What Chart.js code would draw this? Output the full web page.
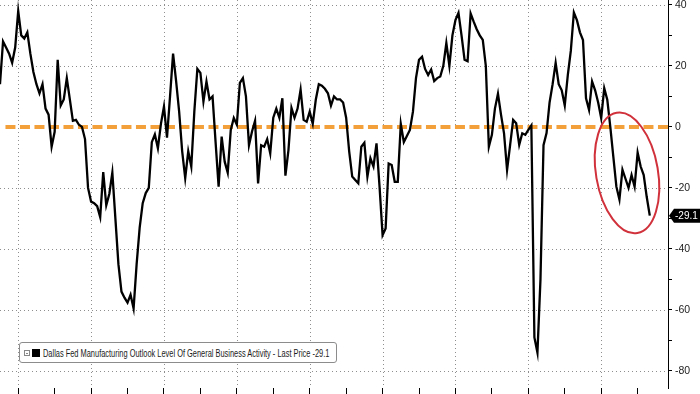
<!DOCTYPE html>
<html>
<head>
<meta charset="utf-8">
<script src="https://cdn.jsdelivr.net/npm/chart.js@4"></script>
<style>
html, body { margin: 0; padding: 0; background: #fff; }
#wrap { position: relative; width: 700px; height: 394px; }
#legend {
    position: absolute; left: 19px; top: 342px; height: 19px; width: 306px;
    border: 1px solid #8c8c8c; border-radius: 3px; background: #fff;
    font: 11px 'Liberation Sans', Arial, sans-serif; color: #1a1a1a;
    display: flex; align-items: center; padding: 0 6px 0 4px; white-space: nowrap; overflow: visible;
}
#legend .mini { width: 4px; height: 4px; border: 1px solid #888; margin-right: 2px; position: relative; flex: none; }
#legend .mini:after { content: ''; position: absolute; left: 1px; top: 2px; width: 2px; height: 1px; background: #888; }
#legend .sq { width: 8px; height: 8px; background: #000; margin-right: 3px; flex: none; }
#legend .txt { display: inline-block; transform: scaleX(0.675); transform-origin: left center; }
</style>
</head>
<body>
<div id="wrap">
  <canvas id="myChart" width="700" height="394"></canvas>
  <div id="legend"><span class="mini"></span><span class="sq"></span><span class="txt">Dallas Fed Manufacturing Outlook Level Of General Business Activity - Last Price -29.1</span></div>
</div>
<script>
// monthly, first point Jul 2005, last point May 2023
let startYear = 2005;
let startMonth = 7;

let activity = [
    14, 28, 26, 24, 21, 26,                                  // 2005 H2
    38, 30, 29, 31, 24, 18, 14, 11, 14, 6, 4, -6.5,          // 2006
    -1.6, 22, 7, 9, 16, 9, 2, 2.3, 0.7, 0, -4, -20,          // 2007
    -24.5, -25, -26, -29.6, -14.8, -25.7, -22, -15, -30, -45, -54, -56, // 2008
    -57.6, -55, -59.5, -45, -33, -25, -21.7, -20, -5, -2.5, -7, 1,       // 2009
    6.7, -3.5, 10, 24, 15, 5, -8, -16.8, -8, -13, 5, 19,     // 2010
    17.7, 8.3, 14.9, 9, 10, -5, -19.6, -3.2, -11.4, -15, -1, 2.9, // 2011
    0.7, 14.4, 16, 10, -6, -1.5, 2, -18.5, -6, -6.5, -4, -8.7,    // 2012
    3, 6, 3, 9.4, -16, -7.6, 6.2, 3, 6, 12.2, 2.3, 1.7,      // 2013
    5, 1, 8.9, 14, 13.5, 12.5, 11, 7, 10, 9, 9, 8,           // 2014
    3, -8, -16.3, -17.4, -18.5, -6.5, -5.2, -16.3, -10.3, -13, -5.4, -19.6, // 2015
    -35.5, -33.3, -12, -12.5, -18, -18, 1, -5, -3, -1, 5, 16, // 2016
    22, 23, 19, 17, 18.8, 15, 16, 16.5, 20, 27.5, 20, 30,    // 2017
    35, 37.4, 30, 22, 21.5, 37.2, 34.5, 32, 30, 28.5, 20, -6.5, // 2018
    -2.6, 6, 10.9, 4, -2.1, -14.1, -6, 2.3, 1.2, -5.9, -2.1, -2.6, // 2019
    -1, 0.5, -69, -74, -50, -6, -2, 8, 14, 21, 14, 12,       // 2020
    7, 17, 25, 37.5, 35, 31, 28.5, 9.4, 5.6, 14.9, 12, 8,    // 2021
    2.9, 12.7, 8.9, 0, -9.8, -19.6, -23.8, -14, -17, -20, -15.8, -19.6, // 2022
    -8.4, -13, -15.8, -23, -29.1                              // 2023
];

let zeroLevel = 0;
let lastPrice = -29.1;
let yTickValues = [-80, -70, -60, -50, -40, -30, -20, -10, 0, 10, 20, 30, 40];
let yMin = -85.6;
let yMax = 41.6;
let xMax = 220;       // axis runs on past the last point to about Nov 2023
let zeroStart = 1.8;

function yearOf(i) {
    return startYear + Math.floor((startMonth - 1 + i) / 12);
}

let januaries = [];
for (let i = 0; i <= xMax; i++) {
    if ((startMonth - 1 + i) % 12 === 0) januaries.push(i);
}

let linePoints = activity.map((v, i) => ({ x: i, y: v }));
let zeroPoints = [{ x: zeroStart, y: zeroLevel }, { x: xMax, y: zeroLevel }];

// red ring round the last months
let ring = { month: 206.5, value: -15.1, rx: 31, ry: 61, tilt: -0.17 };

let extras = {
    id: 'extras',
    beforeDatasetsDraw(chart) {
        // dotted grid: every 20 across, every second January down
        let c = chart.ctx;
        let a = chart.chartArea;
        let xs = chart.scales.x, ys = chart.scales.y;
        c.save();
        c.strokeStyle = '#8e8e8e';
        c.lineWidth = 1;
        c.setLineDash([1, 3]);
        yTickValues.filter(v => v % 20 === 0 && v !== 0).forEach(v => {
            let y = Math.round(ys.getPixelForValue(v)) + 0.5;
            c.beginPath();
            c.moveTo(a.left, y);
            c.lineTo(a.right, y);
            c.stroke();
        });
        januaries.filter(i => yearOf(i) % 2 === 0).forEach(i => {
            let x = Math.round(xs.getPixelForValue(i)) + 0.5;
            c.beginPath();
            c.moveTo(x, a.top);
            c.lineTo(x, a.bottom);
            c.stroke();
        });
        c.restore();
    },
    afterDatasetsDraw(chart) {
        let c = chart.ctx;
        let xs = chart.scales.x, ys = chart.scales.y;
        c.save();
        c.beginPath();
        c.ellipse(xs.getPixelForValue(ring.month), ys.getPixelForValue(ring.value), ring.rx, ring.ry, ring.tilt, 0, Math.PI * 2);
        c.strokeStyle = '#d0313b';
        c.lineWidth = 2;
        c.stroke();
        c.restore();
    },
    afterDraw(chart) {
        let c = chart.ctx;
        let ys = chart.scales.y;
        let y = ys.getPixelForValue(lastPrice);
        let left = chart.chartArea.right + 1;
        c.save();
        c.fillStyle = '#000';
        c.beginPath();
        c.moveTo(left, y);
        c.lineTo(left + 5, y - 7);
        c.lineTo(700, y - 7);
        c.lineTo(700, y + 7);
        c.lineTo(left + 5, y + 7);
        c.closePath();
        c.fill();
        c.fillStyle = '#fff';
        c.font = "10px 'Liberation Sans', Arial, sans-serif";
        c.textBaseline = 'middle';
        c.fillText(String(lastPrice), left + 6, y + 0.5);
        c.restore();
    }
};

function noPad(s) {
    s.paddingTop = 0;
    s.paddingBottom = 0;
    s.paddingLeft = 0;
    s.paddingRight = 0;
}

const ctx = document.getElementById('myChart');

new Chart(ctx, {
    type: 'line',
    data: {
        datasets: [{
            label: 'Dallas Fed Manufacturing Outlook Level Of General Business Activity',
            data: linePoints,
            borderColor: '#000',
            borderWidth: 2.3,
            pointRadius: 0,
            tension: 0
        }, {
            label: 'zero',
            data: zeroPoints,
            borderColor: '#f3a03a',
            borderWidth: 4,
            borderDash: [10, 4.5],
            pointRadius: 0
        }]
    },
    options: {
        responsive: false,
        animation: false,
        layout: { padding: 0 },
        plugins: { legend: { display: false }, tooltip: { enabled: false } },
        scales: {
            x: {
                type: 'linear',
                min: 0,
                max: xMax,
                afterBuildTicks: (s) => { s.ticks = januaries.map(v => ({ value: v })); },
                afterFit: (s) => { s.height = 6; noPad(s); },
                ticks: { display: false, autoSkip: false },
                grid: {
                    drawOnChartArea: false,
                    tickLength: 6,
                    tickColor: '#000'
                },
                border: { display: false }
            },
            y: {
                position: 'right',
                min: yMin,
                max: yMax,
                afterBuildTicks: (s) => { s.ticks = yTickValues.map(v => ({ value: v })); },
                afterFit: (s) => { s.width = 32; noPad(s); },
                ticks: {
                    autoSkip: false,
                    padding: 3,
                    color: '#222',
                    font: { family: "'Liberation Sans', Arial, sans-serif", size: 10.5 },
                    callback: (v) => (v % 20 === 0 ? String(v) : '')
                },
                grid: {
                    drawOnChartArea: false,
                    tickLength: 4,
                    tickColor: '#000'
                },
                border: { display: true, color: '#000', width: 1 }
            }
        }
    },
    plugins: [extras]
});
</script>
</body>
</html>
